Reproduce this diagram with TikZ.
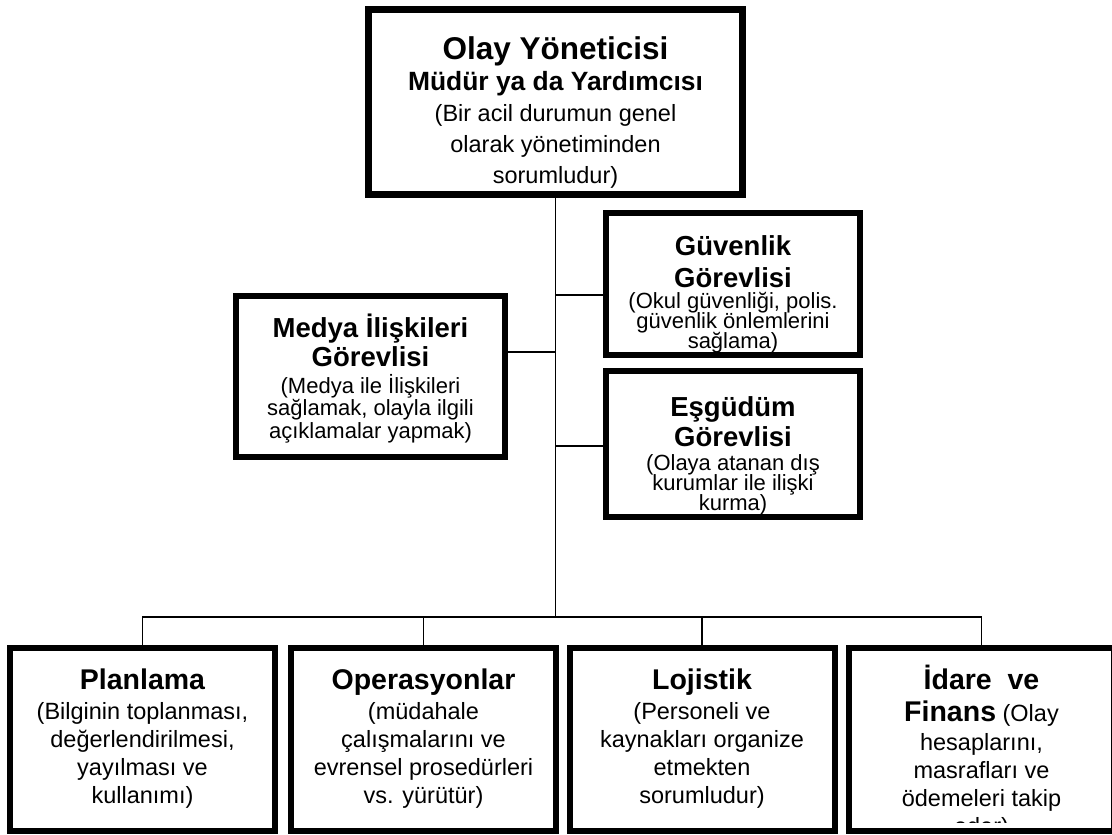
\documentclass[tikz,border=0pt]{standalone}
\usepackage{fontspec}
\setmainfont{Liberation Sans}
% keep the baseline distance fixed even where big and small lines meet
\lineskiplimit=-100pt
\tikzset{
  frame/.style={draw=black, rectangle, line width=6pt, inner sep=0pt},
  chiefframe/.style={frame, line width=7pt},
  link/.style={draw=black, line width=1.6pt},
  txt/.style={align=center, inner sep=0pt, anchor=north},
  subtxt/.style={txt, font=\fontsize{22}{20}\selectfont},
  medtxt/.style={txt, font=\fontsize{22}{22.5}\selectfont},
  unittxt/.style={txt, font=\fontsize{23.5}{28}\selectfont},
}
\newcommand{\subhead}[1]{{\fontsize{27.5}{25}\selectfont\bfseries #1}}
\newcommand{\unithead}[1]{{\fontsize{28.5}{28}\selectfont\bfseries #1}}
\newcommand{\firstline}{\rule{0pt}{26pt}}
\begin{document}
\begin{tikzpicture}[x=1pt,y=-1pt]
\useasboundingbox (0,0) rectangle (1112,835);

% frames
\node[chiefframe, minimum width=374pt, minimum height=185pt] (top) at (555.5,102) {};
\node[frame, minimum width=254pt, minimum height=142pt] (guv) at (733,284) {};
\node[frame, minimum width=269pt, minimum height=161pt] (med) at (370.5,376.5) {};
\node[frame, minimum width=254pt, minimum height=146pt] (esg) at (733,444) {};
\node[frame, minimum width=265pt, minimum height=183pt] (plan) at (142.5,739.5) {};
\node[frame, minimum width=265pt, minimum height=183pt] (ops) at (423.5,739.5) {};
\node[frame, minimum width=265pt, minimum height=183pt] (loj) at (702,739.5) {};
\node[frame, minimum width=265pt, minimum height=183pt] (idare) at (981.5,739.5) {};

% connectors
\coordinate (jg) at (555.5,295);
\coordinate (jm) at (555.5,352);
\coordinate (je) at (555.5,446);
\coordinate (bus) at (555.5,617);
\draw[link] (top.south) -- (bus);
\draw[link] (jg) -- (jg -| guv.west);
\draw[link] (jm) -- (jm -| med.east);
\draw[link] (je) -- (je -| esg.west);
\draw[link] (plan.north) |- (bus);
\draw[link] (idare.north) |- (bus);
\draw[link] (ops.north) -- (ops.north |- bus);
\draw[link] (loj.north) -- (loj.north |- bus);

% texts
\node[txt, font=\fontsize{23.5}{31}\selectfont] (toptxt) at (555.5,28)
  {\rule{0pt}{31pt}{\fontsize{31.5}{31}\selectfont\bfseries Olay Yöneticisi}\\
   {\fontsize{26.4}{31}\selectfont\bfseries Müdür ya da Yardımcısı}\\
   (Bir acil durumun genel\\ olarak yönetiminden\\ sorumludur)};

\node[subtxt] (guvtxt) at (733,229)
  {\firstline\subhead{Güvenlik}\\[12pt] \subhead{Görevlisi}\\[1pt]
   (Okul güvenliği, polis.\\ güvenlik önlemlerini\\ sağlama)};

\node[medtxt] (medtxt) at (370.5,311)
  {\firstline\subhead{Medya İlişkileri}\\[7pt] \subhead{Görevlisi}\\[4pt]
   (Medya ile İlişkileri\\ sağlamak, olayla ilgili\\ açıklamalar yapmak)};

\node[subtxt] (esgtxt) at (733,390)
  {\firstline\subhead{Eşgüdüm}\\[10pt] \subhead{Görevlisi}\\[4pt]
   (Olaya atanan dış\\ kurumlar ile ilişki\\ kurma)};

\node[unittxt] (plantxt) at (142.5,663)
  {\firstline\unithead{Planlama}\\[2pt]
   (Bilginin toplanması,\\ değerlendirilmesi,\\ yayılması ve\\ kullanımı)};

\node[unittxt] (opstxt) at (423.5,663)
  {\firstline\unithead{Operasyonlar}\\[2pt]
   (müdahale\\ çalışmalarını ve\\ evrensel prosedürleri\\ vs. yürütür)};

\node[unittxt] (lojtxt) at (702,663)
  {\firstline\unithead{Lojistik}\\[2pt]
   (Personeli ve\\ kaynakları organize\\ etmekten\\ sorumludur)};

% the last unit's text runs past its frame and is cut at the inner edge
\begin{scope}
  \clip (idare.west |- 0,652) rectangle (idare.east |- 0,822);
  \node[unittxt] (idaretxt) at (981.5,663)
    {\firstline\unithead{İdare\ \ ve}\\[4pt]
     \unithead{Finans} (Olay\\[1pt] hesaplarını,\\ masrafları ve\\ ödemeleri takip\\ eder)};
\end{scope}
\end{tikzpicture}
\end{document}
